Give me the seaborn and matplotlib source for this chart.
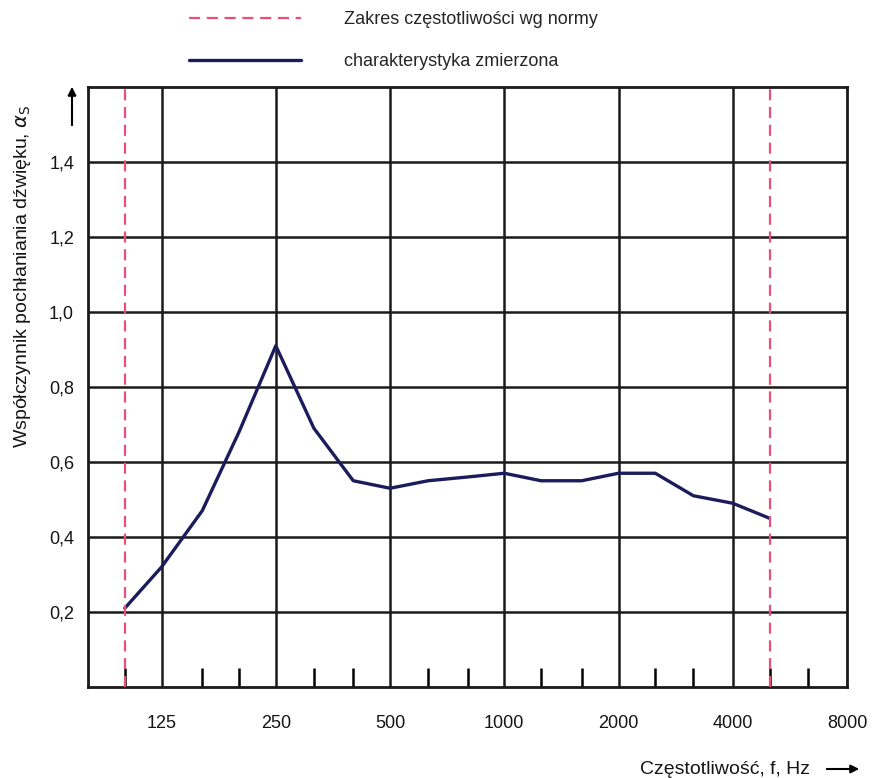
import matplotlib
matplotlib.use('Agg')
import matplotlib.pyplot as plt
import matplotlib.ticker as mticker
import numpy as np
import pandas as pd
import seaborn as sns

# measured curve (third-octave bands)
freqs = [100, 125, 160, 200, 250, 315, 400, 500, 630, 800, 1000,
         1250, 1600, 2000, 2500, 3150, 4000, 5000]
alpha = [0.21, 0.32, 0.47, 0.68, 0.91, 0.69, 0.55, 0.53, 0.55, 0.56, 0.57,
         0.55, 0.55, 0.57, 0.57, 0.51, 0.49, 0.45]

# frequency range according to the standard
norm_range = [100, 5000]

x_ticks = [125, 250, 500, 1000, 2000, 4000, 8000]
x_minor = [100, 160, 200, 315, 400, 630, 800, 1250, 1600, 2500, 3150, 5000, 6300]
y_ticks = [0.2, 0.4, 0.6, 0.8, 1.0, 1.2, 1.4]
y_labels = ['0,2', '0,4', '0,6', '0,8', '1,0', '1,2', '1,4']

df = pd.DataFrame({'f': freqs, 'a': alpha})

sns.set_theme(style='white')
plt.rcParams['font.family'] = ['Liberation Sans Narrow', 'Liberation Sans', 'DejaVu Sans']

fig = plt.figure(figsize=(8.83, 7.78), dpi=100)
ax = fig.add_axes([88 / 883, 1 - 687 / 778, (847 - 88) / 883, (687 - 87) / 778])

line_col = '#1c1c5c'
red_col = '#e8507a'
txt_col = '#151515'

sns.lineplot(data=df, x='f', y='a', ax=ax, color=line_col, lw=2.4, zorder=4,
             label='charakterystyka zmierzona')
for i, f in enumerate(norm_range):
    ax.axvline(f, color=red_col, ls=(0, (5, 3)), lw=1.6, zorder=5,
               label='Zakres częstotliwości wg normy' if i == 0 else None)

ax.set_xscale('log')
ax.set_xlim(80, 8000)
ax.set_ylim(0, 1.6)

ax.set_xticks(x_ticks)
ax.set_xticklabels([str(t) for t in x_ticks])
ax.xaxis.set_minor_locator(mticker.FixedLocator(x_minor))
ax.xaxis.set_minor_formatter(mticker.NullFormatter())
ax.set_yticks(y_ticks)
ax.set_yticklabels(y_labels)

ax.tick_params(axis='x', which='major', length=0, pad=20, labelsize=13, colors=txt_col)
ax.tick_params(axis='x', which='minor', direction='in', length=14, width=1.8,
               color='black', bottom=True, top=False)
ax.tick_params(axis='y', which='major', length=0, pad=10, labelsize=13, colors=txt_col)

for t in x_ticks[:-1]:
    ax.axvline(t, color='#1a1a1a', lw=1.8, zorder=2)
for t in y_ticks:
    ax.axhline(t, color='#1a1a1a', lw=1.8, zorder=2)

for s in ax.spines.values():
    s.set_color('#1a1a1a')
    s.set_linewidth(2)

ax.set_xlabel('')
ax.set_ylabel('Współczynnik pochłaniania dźwięku, $\\alpha_\\mathrm{S}$',
              fontsize=14, color=txt_col)
ax.yaxis.set_label_coords(-0.072, 0.685)

# legend at the top
handles, labels = ax.get_legend_handles_labels()
order = [1, 0]
ax.legend([handles[i] for i in order], [labels[i] for i in order],
          loc='upper left', bbox_to_anchor=(178 / 883, 1.0), bbox_transform=fig.transFigure,
          frameon=False, fontsize=13, handlelength=6.2, handletextpad=2.4,
          labelspacing=1.4, borderaxespad=0.2)

# axis captions with arrows
fig.text(810 / 883, 1 - 769 / 778, 'Częstotliwość, f, Hz', ha='right', va='center',
         fontsize=14, color=txt_col)
ax.annotate('', xy=(862 / 883, 1 - 769 / 778), xytext=(824 / 883, 1 - 769 / 778),
            xycoords='figure fraction', textcoords='figure fraction',
            arrowprops=dict(arrowstyle='-|>', color='black', lw=1.5, mutation_scale=12))
ax.annotate('', xy=(72 / 883, 1 - 84 / 778), xytext=(72 / 883, 1 - 128 / 778),
            xycoords='figure fraction', textcoords='figure fraction',
            arrowprops=dict(arrowstyle='-|>', color='black', lw=1.5, mutation_scale=12))

fig.savefig('out.png', dpi=100, facecolor='white')
